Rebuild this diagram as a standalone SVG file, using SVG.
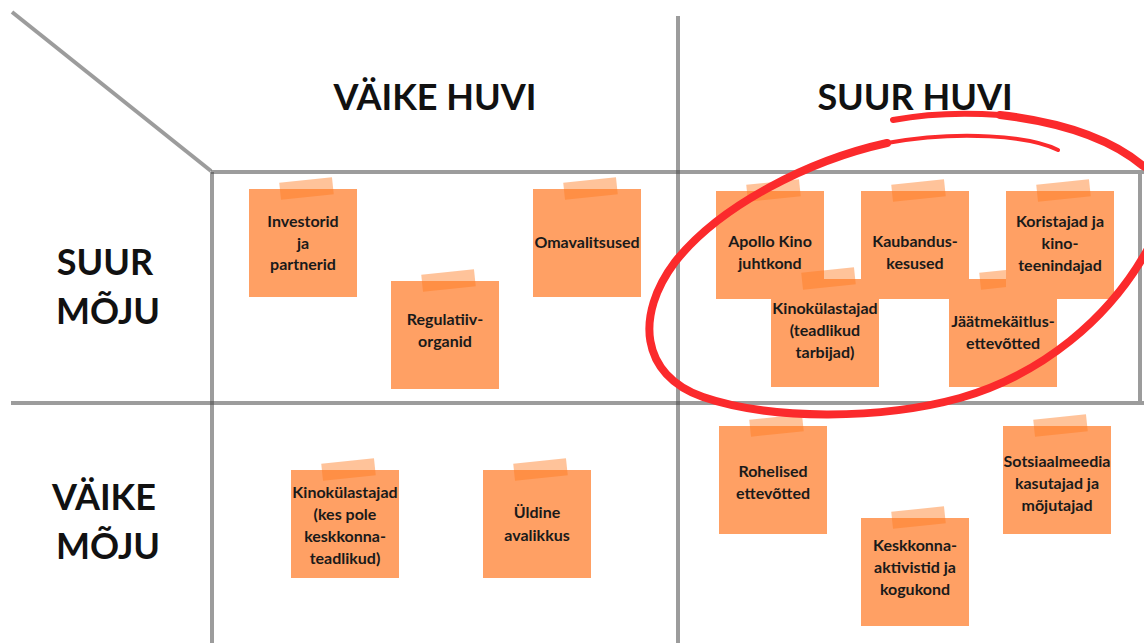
<svg xmlns="http://www.w3.org/2000/svg" width="1144" height="643" viewBox="0 0 1144 643">
  <style>
    .grid { stroke: #4a4a4a; stroke-opacity: 0.55; stroke-width: 4; fill: none; }
    .head { font-family: Lato, "Liberation Sans", sans-serif; font-weight: 700; font-size: 36px; fill: #111; text-anchor: middle; }
    .note { fill: #ffa064; }
    .tape { fill: #ff7a20; fill-opacity: 0.45; }
    .lbl { font-family: Lato, "Liberation Sans", sans-serif; font-weight: 700; font-size: 16px; fill: #1a1a1a; text-anchor: middle; }
    .ring { fill: none; stroke: #fb2a2c; stroke-linecap: round; stroke-linejoin: round; }
  </style>
  <defs>
    <!-- sticky note: square paper with a strip of tape near the top -->
    <symbol id="sticky" overflow="visible">
      <rect class="note" x="0" y="0" width="108" height="108"/>
      <rect class="tape" x="31" y="-9" width="53" height="17" transform="rotate(-6 57.5 -0.5)"/>
    </symbol>
  </defs>

  <rect width="1144" height="643" fill="#ffffff"/>

  <!-- matrix grid lines -->
  <g id="grid">
    <line class="grid" x1="12" y1="12" x2="211" y2="171"/>
    <line class="grid" x1="211" y1="172" x2="1144" y2="172"/>
    <line class="grid" x1="11" y1="403" x2="1144" y2="403"/>
    <line class="grid" x1="212" y1="172" x2="212" y2="643"/>
    <line class="grid" x1="678" y1="16" x2="678" y2="643"/>
    <line class="grid" x1="1140" y1="174" x2="1140" y2="401"/>
  </g>

  <!-- axis headings -->
  <g id="headings">
    <text class="head" x="435" y="110">VÄIKE HUVI</text>
    <text class="head" x="915" y="110">SUUR HUVI</text>
    <text class="head" x="105" y="275">SUUR</text>
    <text class="head" x="108" y="324">MÕJU</text>
    <text class="head" x="104" y="510">VÄIKE</text>
    <text class="head" x="108" y="559">MÕJU</text>
  </g>

  <!-- low interest / high influence -->
  <g id="investorid">
    <use href="#sticky" x="249" y="189"/>
    <text class="lbl" x="303" y="227">Investorid</text>
    <text class="lbl" x="303" y="249">ja</text>
    <text class="lbl" x="303" y="270">partnerid</text>
  </g>
  <g id="regulatiivorganid">
    <use href="#sticky" x="391" y="281"/>
    <text class="lbl" x="445" y="325">Regulatiiv-</text>
    <text class="lbl" x="445" y="347">organid</text>
  </g>
  <g id="omavalitsused">
    <use href="#sticky" x="533" y="189"/>
    <text class="lbl" x="587" y="248">Omavalitsused</text>
  </g>

  <!-- high interest / high influence -->
  <g id="apollo">
    <use href="#sticky" x="716" y="191"/>
    <text class="lbl" x="770" y="247">Apollo Kino</text>
    <text class="lbl" x="770" y="269">juhtkond</text>
  </g>
  <g id="kaubanduskesused">
    <use href="#sticky" x="861" y="191"/>
    <text class="lbl" x="915" y="247">Kaubandus-</text>
    <text class="lbl" x="915" y="269">kesused</text>
  </g>
  <g id="kinokulastajad-teadlikud">
    <use href="#sticky" x="771" y="279"/>
    <text class="lbl" x="825" y="314">Kinokülastajad</text>
    <text class="lbl" x="825" y="336">(teadlikud</text>
    <text class="lbl" x="825" y="358">tarbijad)</text>
  </g>
  <g id="jaatmekaitlus">
    <use href="#sticky" x="949" y="279"/>
    <text class="lbl" x="1003" y="327">Jäätmekäitlus-</text>
    <text class="lbl" x="1003" y="349">ettevõtted</text>
  </g>
  <g id="koristajad">
    <use href="#sticky" x="1006" y="191"/>
    <text class="lbl" x="1060" y="227">Koristajad ja</text>
    <text class="lbl" x="1060" y="249">kino-</text>
    <text class="lbl" x="1060" y="271">teenindajad</text>
  </g>

  <!-- low interest / low influence -->
  <g id="kinokulastajad-muud">
    <use href="#sticky" x="291" y="470"/>
    <text class="lbl" x="345" y="498">Kinokülastajad</text>
    <text class="lbl" x="345" y="520">(kes pole</text>
    <text class="lbl" x="345" y="542">keskkonna-</text>
    <text class="lbl" x="345" y="564">teadlikud)</text>
  </g>
  <g id="uldine-avalikkus">
    <use href="#sticky" x="483" y="470"/>
    <text class="lbl" x="537" y="518">Üldine</text>
    <text class="lbl" x="537" y="541">avalikkus</text>
  </g>

  <!-- high interest / low influence -->
  <g id="rohelised">
    <use href="#sticky" x="719" y="426"/>
    <text class="lbl" x="773" y="477">Rohelised</text>
    <text class="lbl" x="773" y="499">ettevõtted</text>
  </g>
  <g id="sotsiaalmeedia">
    <use href="#sticky" x="1003" y="426"/>
    <text class="lbl" x="1057" y="467">Sotsiaalmeedia</text>
    <text class="lbl" x="1057" y="489">kasutajad ja</text>
    <text class="lbl" x="1057" y="511">mõjutajad</text>
  </g>
  <g id="keskkonnaaktivistid">
    <use href="#sticky" x="861" y="518"/>
    <text class="lbl" x="915" y="551">Keskkonna-</text>
    <text class="lbl" x="915" y="573">aktivistid ja</text>
    <text class="lbl" x="915" y="595">kogukond</text>
  </g>

  <!-- hand-drawn red loop around the key stakeholders -->
  <g id="highlight">
    <path class="ring" stroke-width="4" d="M 1058,150 C 1030,136 960,130 887,143"/>
    <path class="ring" stroke-width="8" d="M 887,143 C 810,160 720,205 675,262 C 635,315 640,375 703,397 C 770,420 880,420 960,398 C 1040,375 1110,320 1150,245 C 1175,200 1165,175 1143,166 C 1110,138 1060,122 1000,115"/>
    <path class="ring" stroke-width="6" d="M 1000,115 C 960,112 925,114 893,120"/>
  </g>
</svg>
